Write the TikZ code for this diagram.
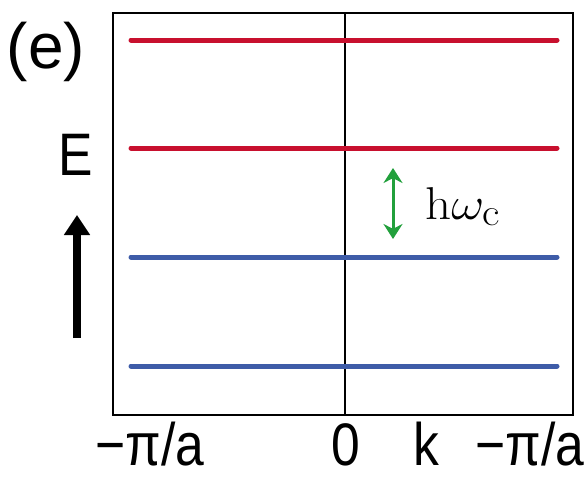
\documentclass[tikz,border=0pt]{standalone}
\usepackage{graphicx}
\usepackage{fontspec}
\setsansfont{Liberation Sans}
\newfontfamily\narrowsf[FakeStretch=0.86]{Liberation Sans}
\usetikzlibrary{arrows.meta}
\definecolor{lvRed}{RGB}{200,16,46}
\definecolor{lvBlue}{RGB}{62,92,168}
\definecolor{lvGreen}{RGB}{34,160,60}
\tikzset{
    frame/.style={draw=black, line width=2.6pt},
    level/.style={line width=5pt, line cap=round},
    txt/.style={font=\fontsize{60}{60}\selectfont\narrowsf, inner sep=0pt, anchor=base},
    gap/.style={{Stealth[length=15pt,width=19pt]}-{Stealth[length=15pt,width=19pt]},
                draw=lvGreen, line width=3pt},
    upward/.style={-{Triangle[length=20pt,width=25pt]}, line width=8pt}
}

\begin{document}
\begin{tikzpicture}[x=1pt,y=-1pt]
  \useasboundingbox (0,0) rectangle (586,479);
  % Zone and k = 0
  \draw[frame] (113,13) rectangle (573,415);
  \draw[line width=2pt] (345,13) -- (345,415);

  % Flat bands
  \foreach \y/\c in {40/lvRed,148/lvRed,257/lvBlue,366/lvBlue}
    \draw[level, draw=\c] (131,\y) -- (557,\y);

  % Labels
  \node[txt, font=\fontsize{64}{64}\selectfont\sffamily] (panel) at (46,68) {(e)};
  \node[txt] (energy) at (76,175) {E};
  \node[txt] (kmin) at (150,465) {−π/a};
  \node[txt] (kzero) at (346,465) {0};
  \node[txt] (kaxis) at (426,465) {k};
  \node[txt] (kmax) at (530,465) {−π/a};

  % Energy axis
  \coordinate (eBot) at (77,338);
  \coordinate (eTop) at (77,215);
  \draw[upward] (eBot) -- (eTop);

  % Level spacing
  \coordinate (gapTop) at (393,168);
  \coordinate (gapBot) at (393,239);
  \draw[gap] (gapBot) -- (gapTop);
  \node[anchor=base west, inner sep=0pt]
    (hw) at (425,219) {\scalebox{2.05}[1.85]{\fontsize{24.88}{25}\selectfont$\mathrm{h}\omega_{\mathrm{c}}$}};
\end{tikzpicture}
\end{document}
